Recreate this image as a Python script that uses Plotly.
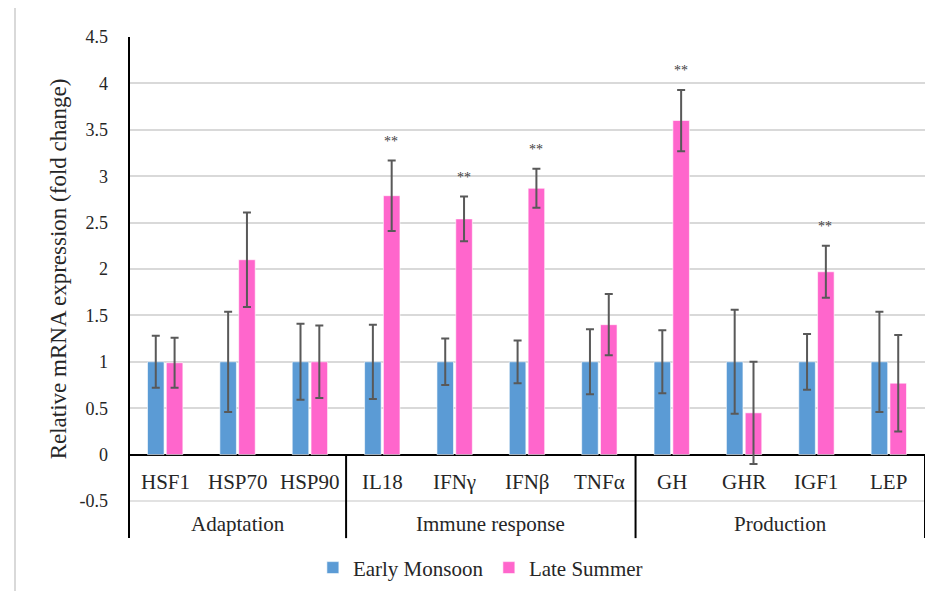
import plotly.graph_objects as go

genes = ["HSF1", "HSP70", "HSP90", "IL18", "IFNγ", "IFNβ", "TNFα", "GH", "GHR", "IGF1", "LEP"]
groups = ["Adaptation", "Immune response", "Production"]
group_sizes = [3, 4, 4]

early = [1.0, 1.0, 1.0, 1.0, 1.0, 1.0, 1.0, 1.0, 1.0, 1.0, 1.0]
early_err = [0.28, 0.54, 0.41, 0.40, 0.25, 0.23, 0.35, 0.34, 0.56, 0.30, 0.54]
late = [0.99, 2.10, 1.00, 2.79, 2.54, 2.87, 1.40, 3.60, 0.45, 1.97, 0.77]
late_err = [0.27, 0.51, 0.39, 0.38, 0.24, 0.21, 0.33, 0.33, 0.55, 0.28, 0.52]
significance = ["", "", "", "**", "**", "**", "", "**", "", "**", ""]

y_ticks = [-0.5, 0, 0.5, 1, 1.5, 2, 2.5, 3, 3.5, 4, 4.5]
y_tick_text = ["-0.5", "0", "0.5", "1", "1.5", "2", "2.5", "3", "3.5", "4", "4.5"]

FONT = "Liberation Serif, Times New Roman, serif"
TXT = "#262626"
y_min, y_max = -0.5, 4.5

fig = go.Figure()
err_style = dict(type="data", color="#595959", thickness=2, width=4)
fig.add_trace(go.Bar(
    x=genes, y=early, name="Early Monsoon",
    marker=dict(color="#5B9BD5", line=dict(color="rgba(255,255,255,0.6)", width=1)),
    error_y=dict(array=early_err, **err_style),
))
fig.add_trace(go.Bar(
    x=genes, y=late, name="Late Summer",
    marker=dict(color="#FF66CC", line=dict(color="rgba(255,255,255,0.6)", width=1)),
    error_y=dict(array=late_err, **err_style),
))

annotations = []
# significance marks
for g, v, e, s in zip(genes, late, late_err, significance):
    if s:
        annotations.append(dict(x=g, y=v + e, xref="x", yref="y", text=s,
                                showarrow=False, yanchor="middle", yshift=19,
                                xshift=9, font=dict(family=FONT, size=14, color="#404040")))
# category labels
for g in genes:
    annotations.append(dict(x=g, y=-0.3, xref="x", yref="y", text=g, showarrow=False,
                            yanchor="middle", font=dict(family=FONT, size=21, color=TXT)))

zero_paper = (0 - y_min) / (y_max - y_min)
shapes = [
    # separator between category labels and group labels (at -0.5 gridline)
    dict(type="line", xref="paper", yref="paper", x0=0, x1=1, y0=0, y1=0,
         line=dict(color="#D9D9D9", width=1.5), layer="below"),
]
# group labels and dividers
start = 0
for name, n in zip(groups, group_sizes):
    centre = start + (n - 1) / 2
    annotations.append(dict(x=centre, y=-0.05, xref="x", yref="paper", text=name,
                            showarrow=False, yanchor="middle",
                            font=dict(family=FONT, size=21, color=TXT)))
    start += n
    shapes.append(dict(type="line", xref="x", yref="paper", x0=start - 0.5, x1=start - 0.5,
                       y0=zero_paper, y1=-0.08, line=dict(color="black", width=2)))

# left axis line extended down through label area
shapes.append(dict(type="line", xref="paper", yref="paper", x0=0, x1=0, y0=1, y1=-0.08,
                   line=dict(color="black", width=2)))
# faint outer frame line on left
shapes.append(dict(type="line", xref="paper", yref="paper", x0=-0.1432, x1=-0.1432, y0=1.1, y1=-0.2,
                   line=dict(color="#D9D9D9", width=2)))

fig.update_layout(
    width=943, height=591,
    margin=dict(l=121, r=26, t=29, b=98),
    paper_bgcolor="white", plot_bgcolor="white",
    barmode="group", bargap=0.48, bargroupgap=0.12,
    font=dict(family=FONT, color=TXT),
    showlegend=True,
    legend=dict(orientation="h", xref="paper", x=0.231, xanchor="left",
                yref="container", y=0.0525, yanchor="middle",
                font=dict(family=FONT, size=21, color=TXT), itemwidth=30,
                entrywidth=131, traceorder="normal"),
    annotations=annotations,
    shapes=shapes,
    xaxis=dict(showticklabels=False, showgrid=False, zeroline=False, showline=False,
               ticks="", range=[-0.5, len(genes) - 0.5]),
    yaxis=dict(range=[y_min, y_max], tickvals=y_ticks, ticktext=y_tick_text,
               showgrid=True, gridcolor="#D9D9D9", gridwidth=1.5,
               zeroline=True, zerolinecolor="black", zerolinewidth=2,
               showline=False, ticks="", ticklabelstandoff=20,
               tickfont=dict(family=FONT, size=18, color=TXT),
               automargin=False,
               title=dict(text="Relative mRNA expression (fold change)", standoff=6,
                          font=dict(family=FONT, size=23, color=TXT))),
)

fig.write_html("out.html")
